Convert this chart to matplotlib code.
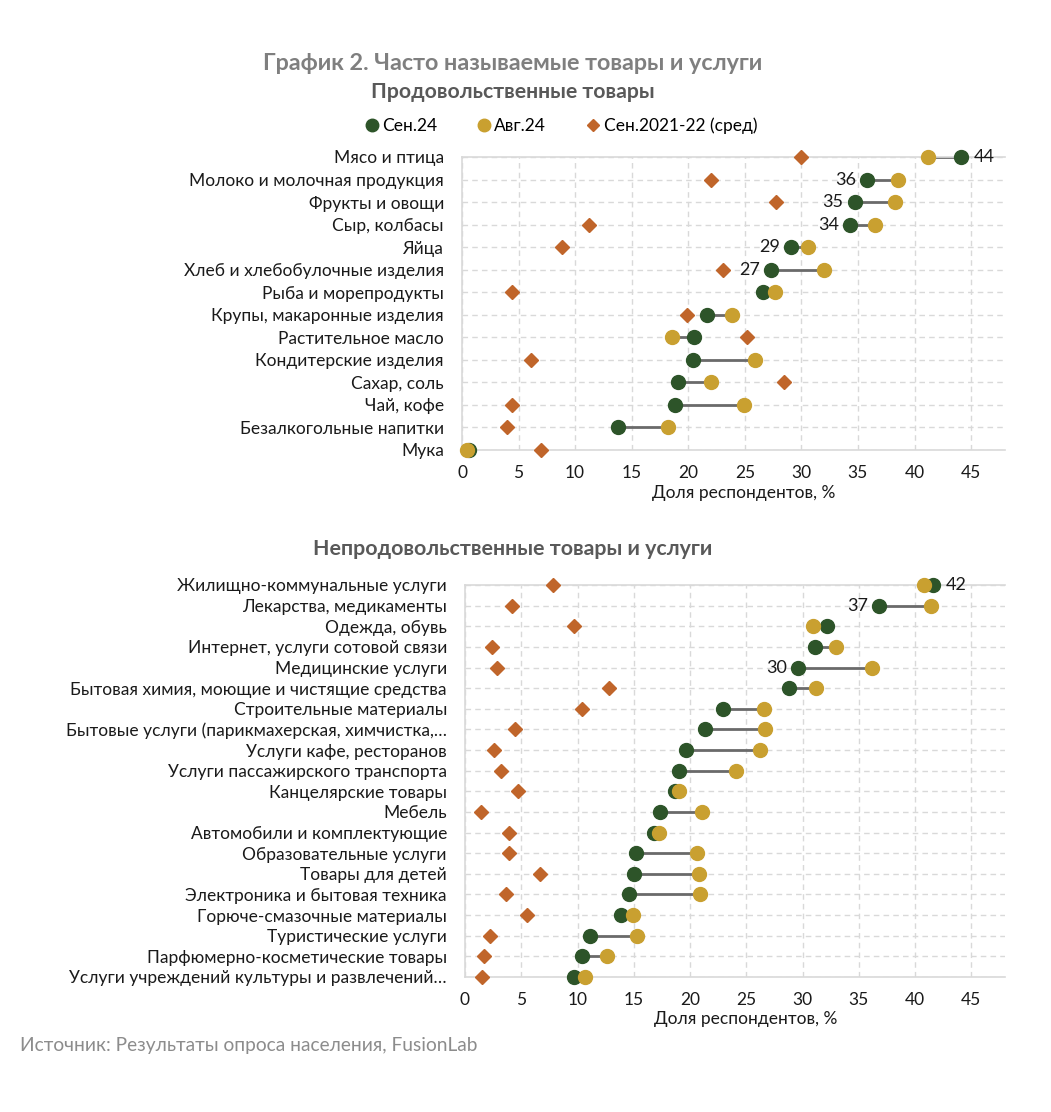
import matplotlib
matplotlib.use("Agg")
import matplotlib.pyplot as plt
from matplotlib.lines import Line2D
import numpy as np

plt.rcParams['font.family'] = ['Lato', 'DejaVu Sans']

food_cats = ["Мясо и птица", "Молоко и молочная продукция", "Фрукты и овощи", "Сыр, колбасы",
             "Яйца", "Хлеб и хлебобулочные изделия", "Рыба и морепродукты",
             "Крупы, макаронные изделия", "Растительное масло", "Кондитерские изделия",
             "Сахар, соль", "Чай, кофе", "Безалкогольные напитки", "Мука"]
food_sep24 = [44.1, 35.8, 34.7, 34.3, 29.1, 27.3, 26.6, 21.7, 20.5, 20.4, 19.1, 18.8, 13.8, 0.6]
food_aug24 = [41.2, 38.5, 38.3, 36.5, 30.6, 32.0, 27.7, 23.9, 18.6, 25.9, 22.0, 24.9, 18.2, 0.4]
food_avg = [30.0, 22.0, 27.8, 11.2, 8.8, 23.1, 4.4, 19.9, 25.2, 6.1, 28.5, 4.4, 4.0, 7.0]
food_labels = ["44", "36", "35", "34", "29", "27", "", "", "", "", "", "", "", ""]

nf_cats = ["Жилищно-коммунальные услуги", "Лекарства, медикаменты", "Одежда, обувь",
           "Интернет, услуги сотовой связи", "Медицинские услуги",
           "Бытовая химия, моющие и чистящие средства", "Строительные материалы",
           "Бытовые услуги (парикмахерская, химчистка,…", "Услуги кафе, ресторанов",
           "Услуги пассажирского транспорта", "Канцелярские товары", "Мебель",
           "Автомобили и комплектующие", "Образовательные услуги", "Товары для детей",
           "Электроника и бытовая техника", "Горюче-смазочные материалы",
           "Туристические услуги", "Парфюмерно-косметические товары",
           "Услуги учреждений культуры и развлечений…"]
nf_sep24 = [41.6, 36.8, 32.2, 31.1, 29.6, 28.8, 22.9, 21.3, 19.6, 19.0, 18.7, 17.3, 16.8,
            15.2, 15.0, 14.6, 13.9, 11.1, 10.4, 9.7]
nf_aug24 = [40.8, 41.4, 30.9, 33.0, 36.2, 31.2, 26.6, 26.7, 26.2, 24.1, 19.0, 21.1, 17.2,
            20.6, 20.8, 20.9, 14.9, 15.3, 12.6, 10.7]
nf_avg = [7.8, 4.2, 9.7, 2.4, 2.8, 12.8, 10.4, 4.4, 2.6, 3.2, 4.7, 1.4, 3.9, 3.9, 6.7, 3.6,
          5.5, 2.2, 1.7, 1.5]
nf_labels = ["42", "37", "", "", "30"] + [""] * 15

x_ticks = [0, 5, 10, 15, 20, 25, 30, 35, 40, 45]
x_label = "Доля респондентов, %"
legend_names = ["Сен.24", "Авг.24", "Сен.2021-22 (сред)"]

GREEN = "#2d5429"
GOLD = "#c9a030"
ORANGE = "#c0652a"
LINE = "#6a6a6a"
GRID = "#d9d9d9"
TXT = "#1a1a1a"

W, H = 1051, 1112
fig = plt.figure(figsize=(W / 100, H / 100), dpi=100)


def make_ax(left_px, right_px, top_px, bottom_px):
    return fig.add_axes([left_px / W, 1 - bottom_px / H, (right_px - left_px) / W,
                         (bottom_px - top_px) / H])


def draw(ax, cats, sep, aug, avg, labels):
    n = len(cats)
    y = np.arange(n)
    sep = np.array(sep)
    aug = np.array(aug)
    ax.set_xlim(0, 48)
    ax.set_ylim(n - 1, 0)
    ax.set_yticks(y)
    ax.set_yticklabels(cats, fontsize=12.5, color=TXT)
    ax.set_xticks(x_ticks)
    ax.set_xticklabels([str(t) for t in x_ticks], fontsize=12.5, color=TXT)
    ax.tick_params(axis='y', length=0, pad=13)
    ax.tick_params(axis='x', length=0, pad=11)
    ax.grid(True, color=GRID, linestyle=(0, (4, 3)), linewidth=1.0)
    ax.set_axisbelow(True)
    ax.spines['right'].set_visible(False)
    for s in ['left', 'bottom', 'top']:
        ax.spines[s].set_color(GRID)
        ax.spines[s].set_linewidth(1.2)
    ax.hlines(y, np.minimum(sep, aug), np.maximum(sep, aug), color=LINE, linewidth=2, zorder=2)
    ax.plot(avg, y, linestyle='none', marker='D', ms=7, color=ORANGE, zorder=3, clip_on=False)
    ax.plot(sep, y, linestyle='none', marker='o', ms=10, color=GREEN, zorder=4, clip_on=False)
    ax.plot(aug, y, linestyle='none', marker='o', ms=10, color=GOLD, zorder=5, clip_on=False)
    for i, lab in enumerate(labels):
        if not lab:
            continue
        if sep[i] >= aug[i]:
            ax.annotate(lab, (sep[i], y[i]), xytext=(9, 0), textcoords='offset points',
                        ha='left', va='center', fontsize=13, color=TXT, zorder=6)
        else:
            ax.annotate(lab, (sep[i], y[i]), xytext=(-8, 0), textcoords='offset points',
                        ha='right', va='center', fontsize=13, color=TXT, zorder=6)
    ax.set_xlabel(x_label, fontsize=12.5, color=TXT, labelpad=3)


ax1 = make_ax(462, 1005, 157, 450)
draw(ax1, food_cats, food_sep24, food_aug24, food_avg, food_labels)
ax1.xaxis.set_label_coords(0.519, -0.118)

ax2 = make_ax(465, 1005, 585, 977)
draw(ax2, nf_cats, nf_sep24, nf_aug24, nf_avg, nf_labels)
ax2.xaxis.set_label_coords(0.52, -0.088)

fig.text(513 / W, 1 - 63 / H, "График 2. Часто называемые товары и услуги", ha='center',
         va='center', fontsize=16.8, fontweight='bold', color='#7f7f7f')
fig.text(513 / W, 1 - 92 / H, "Продовольственные товары", ha='center', va='center',
         fontsize=15.3, fontweight='bold', color='#595959')
fig.text(513 / W, 1 - 549 / H, "Непродовольственные товары и услуги", ha='center',
         va='center', fontsize=15.4, fontweight='bold', color='#595959')
fig.text(20 / W, 1 - 1045 / H, "Источник: Результаты опроса населения, FusionLab",
         ha='left', va='center', fontsize=13.8, color='#8c8c8c')

handles = [
    Line2D([], [], linestyle='none', marker='o', ms=9, color=GREEN),
    Line2D([], [], linestyle='none', marker='o', ms=9, color=GOLD),
    Line2D([], [], linestyle='none', marker='D', ms=6, color=ORANGE),
]
fig.legend(handles, legend_names, loc='center', bbox_to_anchor=(560 / W, 1 - 126 / H),
           ncol=3, frameon=False, fontsize=12.5, handletextpad=0.1, columnspacing=2.2,
           handlelength=1.0)

fig.savefig("out.png", dpi=100, facecolor='white')
